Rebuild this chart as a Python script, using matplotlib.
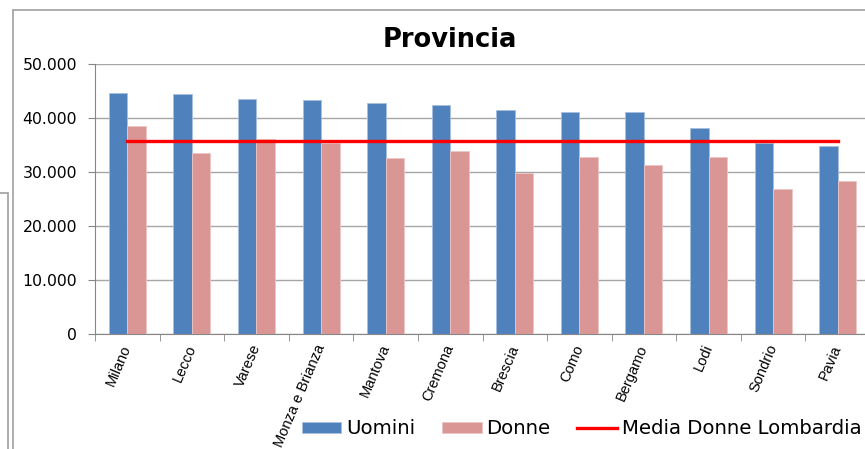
import numpy as np
import matplotlib
matplotlib.use('Agg')
import matplotlib.pyplot as plt
import matplotlib.transforms as mtransforms
from matplotlib.patches import Rectangle
from matplotlib.ticker import FuncFormatter

province = ['Milano', 'Lecco', 'Varese', 'Monza e Brianza', 'Mantova', 'Cremona',
            'Brescia', 'Como', 'Bergamo', 'Lodi', 'Sondrio', 'Pavia']
uomini = [44600, 44400, 43500, 43300, 42800, 42500, 41500, 41200, 41200, 38100, 35300, 34900]
donne = [38500, 33500, 36200, 35300, 32600, 33800, 29900, 32800, 31300, 32800, 26800, 28400]
media_donne = 35700

blu = '#4F81BD'
rosa = '#D99694'

fig = plt.figure(figsize=(8.65, 4.49), dpi=100)
ax = fig.add_axes([95 / 865, 115 / 449, 775 / 865, 270 / 449])

x = np.arange(len(province))
w = 0.286
b1 = ax.bar(x - w / 2, uomini, w, color=blu, edgecolor='#A7C0E0', linewidth=0.6, label='Uomini', zorder=3)
b2 = ax.bar(x + w / 2, donne, w, color=rosa, edgecolor='#EDC6C5', linewidth=0.6, label='Donne', zorder=3)
l1, = ax.plot([x[0], x[-1]], [media_donne, media_donne], color='#FF0000', linewidth=2.4,
              label='Media Donne Lombardia', zorder=4)

ax.set_xlim(-0.5, len(province) - 0.5)
ax.set_ylim(0, 50000)
ax.set_yticks(range(0, 50001, 10000))
ax.yaxis.set_major_formatter(FuncFormatter(lambda v, p: '0' if v == 0 else f'{int(v):,}'.replace(',', '.')))
ax.grid(axis='y', color='#A6A6A6', linewidth=1.0, zorder=0)

ax.set_xticks(x)
ax.set_xticklabels(province, rotation=67, ha='right', va='center', rotation_mode='anchor',
                   fontsize=10.5, family='Liberation Sans')
offset = mtransforms.ScaledTranslation(6 / 100, 0, fig.dpi_scale_trans)
for lab in ax.get_xticklabels():
    lab.set_transform(lab.get_transform() + offset)
ax.set_xticks(np.arange(-0.5, len(province)), minor=True)
ax.tick_params(axis='x', which='major', length=0, pad=8)
ax.tick_params(axis='x', which='minor', length=5, color='#868686')
ax.tick_params(axis='y', length=5, color='#868686', labelsize=11.3, pad=8)

for s in ['top', 'right']:
    ax.spines[s].set_visible(False)
for s in ['left', 'bottom']:
    ax.spines[s].set_color('#868686')

fig.text(450 / 865, 1 - 40 / 449, 'Provincia', ha='center', va='center',
         fontsize=18.5, fontweight='bold')

fig.legend([b1, b2, l1], ['Uomini', 'Donne', 'Media Donne Lombardia'],
           loc='center left', bbox_to_anchor=(302 / 865, 1 - 429 / 449), ncol=3, frameon=False,
           fontsize=14.2, handlelength=2.0, handleheight=0.5, columnspacing=1.35, handletextpad=0.25,
           borderaxespad=0, borderpad=0)

# chart borders
fig.patches.append(Rectangle((13 / 865, -0.1), 1.2, 1.1 - 10 / 449, transform=fig.transFigure,
                             fill=False, edgecolor='#A0A0A0', linewidth=1.2, zorder=0))
fig.patches.append(Rectangle((-0.1, -0.1), 0.1 + 8 / 865, 0.1 + (449 - 193) / 449,
                             transform=fig.transFigure, fill=False, edgecolor='#A0A0A0',
                             linewidth=1.2, zorder=0))

fig.savefig('out.png', dpi=100)
